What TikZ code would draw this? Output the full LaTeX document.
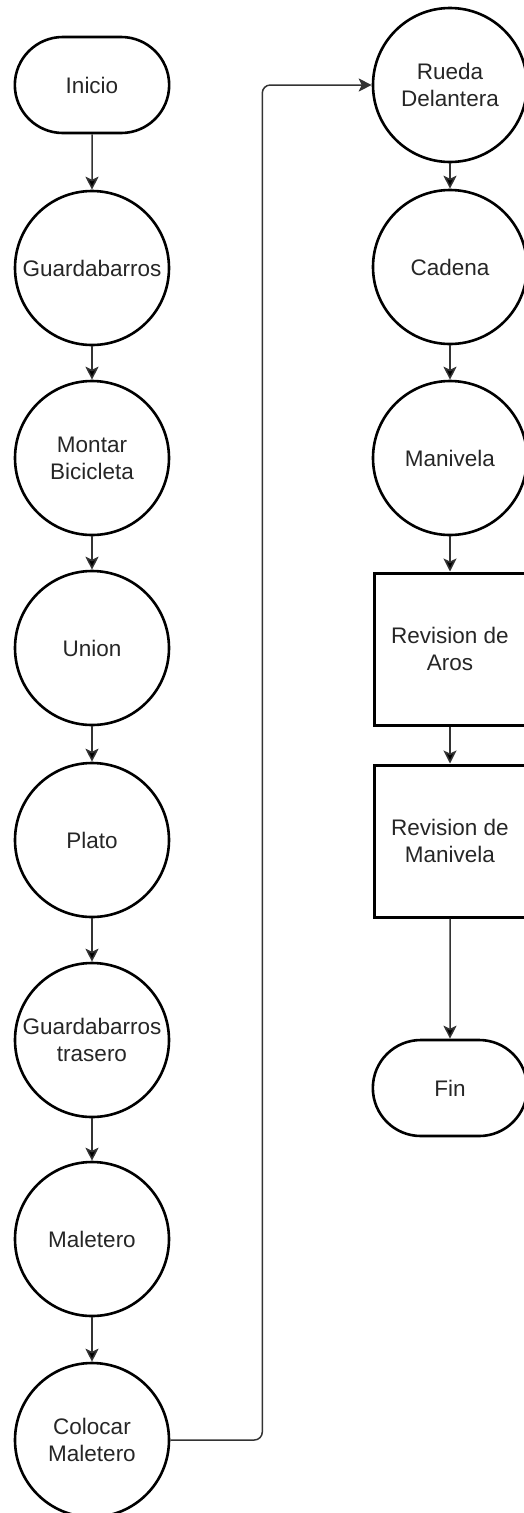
\documentclass[tikz,border=0pt]{standalone}
\usepackage{fontspec}
\setmainfont{Liberation Sans}
\usepackage{tikz}
\usetikzlibrary{arrows.meta, shapes.misc, positioning}

\begin{document}
\begin{tikzpicture}[x=1pt,y=1pt,node distance=191pt,
                    step node/.style={circle,draw,line width=2.6pt,minimum size=154pt,inner sep=0pt,
                                      align=center,text=black!85,font=\fontsize{22.5}{27}\selectfont},
                    end node/.style={rounded rectangle,draw,line width=2.6pt,minimum width=161pt,
                                     minimum height=96pt,text=black!85,font=\fontsize{22.5}{27}\selectfont},
                    check node/.style={rectangle,draw,line width=3pt,minimum width=152pt,minimum height=152pt,
                                       align=center,text=black!85,font=\fontsize{22.5}{27}\selectfont},
                    flow/.style={-{Stealth[length=13pt,width=13pt,inset=3pt]},line width=1.5pt,draw=black!80}]

  \useasboundingbox (0,0) rectangle (524,-1513);

  % left column
  \node[end node] (1) at (92,-85) {Inicio};
  \node[step node] (2) [below of=1, node distance=183pt] {Guardabarros};
  \node[step node] (3) [below of=2, node distance=190pt] {Montar\\Bicicleta};
  \node[step node] (4) [below of=3, node distance=190pt] {Union};
  \node[step node] (5) [below of=4, node distance=192pt] {Plato};
  \node[step node] (6) [below of=5, node distance=200pt] {Guardabarros\\trasero};
  \node[step node] (7) [below of=6, node distance=199pt] {Maletero};
  \node[step node] (8) [below of=7, node distance=201pt] {Colocar\\Maletero};

  % right column
  \node[step node] (9) at (450,-85) {Rueda\\Delantera};
  \node[step node] (10) [below of=9, node distance=182pt] {Cadena};
  \node[step node] (11) [below of=10] {Manivela};
  \node[check node] (12) [below of=11] {Revision de\\Aros};
  \node[check node] (13) [below of=12, node distance=192pt] {Revision de\\Manivela};
  \node[end node] (14) [below of=13, node distance=247pt] {Fin};

  \path[flow]
    (1) edge (2)
    (2) edge (3)
    (3) edge (4)
    (4) edge (5)
    (5) edge (6)
    (6) edge (7)
    (7) edge (8)
    (9) edge (10)
    (10) edge (11)
    (11) edge (12)
    (12) edge (13)
    (13) edge (14);

  \draw[flow, rounded corners=8pt] (8.east) -- ++(92,0) |- (9.west);

\end{tikzpicture}
\end{document}
